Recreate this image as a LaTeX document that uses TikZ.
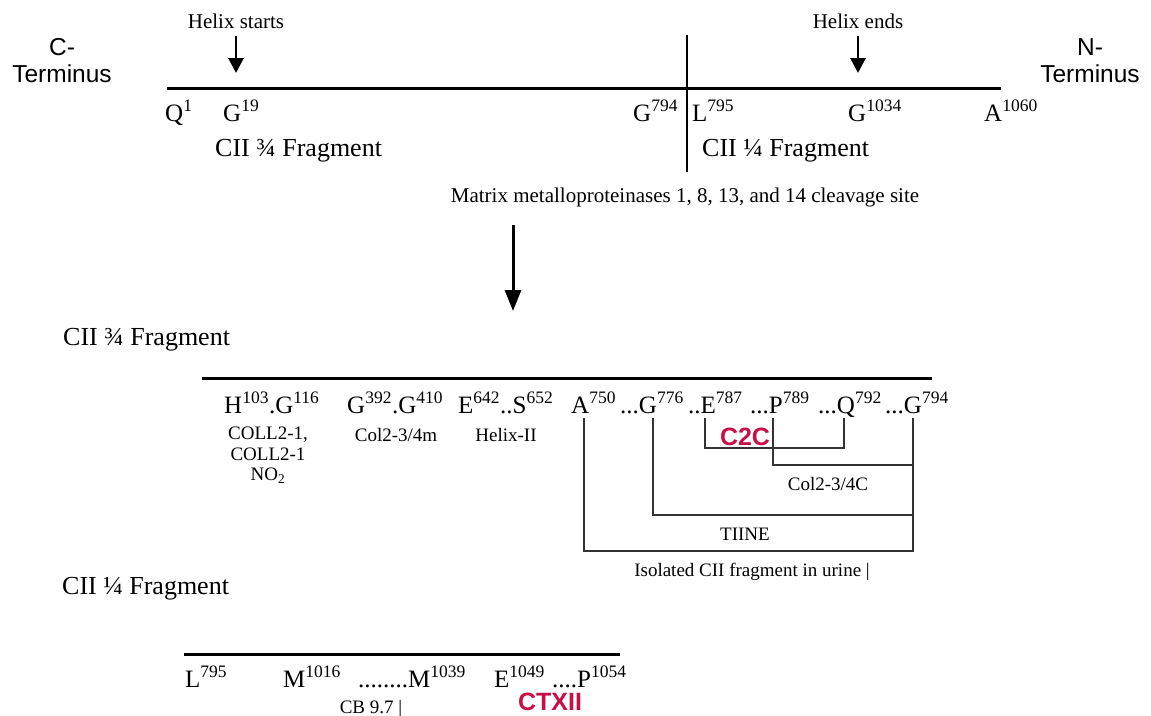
\documentclass[tikz,border=0pt]{standalone}
\usepackage{fontspec}
\setmainfont{Liberation Serif}
\setsansfont{Liberation Sans}
\usepackage{xcolor}
\usetikzlibrary{arrows.meta, calc}

\definecolor{ctxred}{RGB}{200,16,70}

\begin{document}
\begin{tikzpicture}[
    x=1pt, y=-1pt,
    %% text styles
    res/.style={font=\fontsize{25}{27}\selectfont, anchor=base west, inner sep=0pt},
    frag/.style={font=\fontsize{26}{28}\selectfont, anchor=base west, inner sep=0pt},
    note/.style={font=\fontsize{21}{23}\selectfont, anchor=base, inner sep=0pt},
    tag/.style={font=\fontsize{19}{20.5}\selectfont, anchor=base, inner sep=0pt, align=center},
    term/.style={font=\sffamily\fontsize{24.5}{27}\selectfont, align=center, inner sep=0pt},
    hit/.style={font=\sffamily\bfseries\fontsize{25}{27}\selectfont, text=ctxred, anchor=base, inner sep=0pt},
    %% line styles
    chain/.style={line width=3pt},
    cut/.style={line width=2pt},
    brk/.style={line width=1.2pt, black!80},
    ptr/.style={-{Triangle[width=15pt,length=15pt]}, line width=2.8pt, shorten <=8pt},
    bigptr/.style={-{Triangle[width=16pt,length=21pt]}, line width=3pt}
]
    \useasboundingbox (0,0) rectangle (1151,715);

    %% --- full chain --------------------------------------------
    \node[term] (cterm) at (62,61) {C-\\Terminus};
    \node[term] (nterm) at (1090,61) {N-\\Terminus};

    \coordinate (c0) at (167,88);
    \coordinate (c1) at (1001,88);
    \draw[chain] (c0) -- (c1);

    \node[note] (hstart) at (236,28) {Helix starts};
    \node[note] (hend)   at (858,28) {Helix ends};
    \coordinate (hs) at (236,73);
    \coordinate (he) at (858,73);
    \draw[ptr] (hstart) -- (hs);
    \draw[ptr] (hend) -- (he);

    \node[res] (q1)    at (165,121) {Q\textsuperscript{1}};
    \node[res] (g19)   at (223,121) {G\textsuperscript{19}};
    \node[res] (g794t) at (633,121) {G\textsuperscript{794}};
    \node[res] (l795t) at (692,121) {L\textsuperscript{795}};
    \node[res] (g1034) at (848,121) {G\textsuperscript{1034}};
    \node[res] (a1060) at (984,121) {A\textsuperscript{1060}};

    \node[frag] (f34t) at (215,156) {CII ¾ Fragment};
    \node[frag] (f14t) at (702,156) {CII ¼ Fragment};

    %% cleavage site
    \coordinate (cuttop) at (687,35);
    \coordinate (cutbot) at (687,172);
    \draw[cut] (cuttop) -- (cutbot);
    \node[note] (mmp) at (685,202) {Matrix metalloproteinases 1, 8, 13, and 14 cleavage site};

    \coordinate (a0) at (513,225);
    \coordinate (a1) at (513,311);
    \draw[bigptr] (a0) -- (a1);

    %% --- 3/4 fragment ------------------------------------------
    \node[frag] (f34) at (63,345) {CII ¾ Fragment};
    \coordinate (m0) at (202,378);
    \coordinate (m1) at (932,378);
    \draw[chain] (m0) -- (m1);

    \node[res] (h103) at (224,413) {H\textsuperscript{103}.G\textsuperscript{116}};
    \node[res] (g392) at (347,413) {G\textsuperscript{392}.G\textsuperscript{410}};
    \node[res] (e642) at (458,413) {E\textsuperscript{642}..S\textsuperscript{652}};
    \node[res] (a750) at (571,413) {A\textsuperscript{750}};
    \node[res] (g776) at (620,413) {...G\textsuperscript{776}};
    \node[res] (e787) at (688,413) {..E\textsuperscript{787}};
    \node[res] (p789) at (750,413) {...P\textsuperscript{789}};
    \node[res] (q792) at (818,413) {...Q\textsuperscript{792}};
    \node[res] (g794) at (885,413) {...G\textsuperscript{794}};

    \node[tag, anchor=north] (coll) at (268,427) {COLL2-1,\\COLL2-1\\NO\textsubscript{2}};
    \node[tag] (colm) at (396,441) {Col2-3/4m};
    \node[tag] (hel)  at (506,441) {Helix-II};

    %% epitope brackets
    \coordinate (pA) at (584,418);
    \coordinate (pG) at (653,418);
    \coordinate (pE) at (705,418);
    \coordinate (pP) at (773,418);
    \coordinate (pQ) at (844,418);
    \coordinate (pZ) at (913,418);
    \draw[brk] (pE) |- ($(pQ)+(0,30)$) -- (pQ);
    \draw[brk] (pP) |- ($(pZ)+(0,47)$);
    \draw[brk] (pG) |- ($(pZ)+(0,97)$);
    \draw[brk] (pA) |- ($(pZ)+(0,133)$) -- (pZ);

    \node[hit] (c2c) at (745,445) {C2C};
    \node[tag] (col4c) at (828,490) {Col2-3/4C};
    \node[tag] (tiine) at (745,540) {TIINE};
    \node[tag] (urine) at (752,576) {Isolated CII fragment in urine |};

    %% --- 1/4 fragment ------------------------------------------
    \node[frag] (f14) at (62,594) {CII ¼ Fragment};
    \coordinate (n0) at (184,654);
    \coordinate (n1) at (620,654);
    \draw[chain] (n0) -- (n1);

    \node[res] (l795)  at (185,687) {L\textsuperscript{795}};
    \node[res] (m1016) at (283,687) {M\textsuperscript{1016}};
    \node[res] (m1039) at (358,687) {........M\textsuperscript{1039}};
    \node[res] (e1049) at (494,687) {E\textsuperscript{1049}};
    \node[res] (p1054) at (552,687) {....P\textsuperscript{1054}};

    \node[tag] (cb97) at (371,713) {CB 9.7 |};
    \node[hit] (ctx) at (550,710) {CTXII};

\end{tikzpicture}
\end{document}
